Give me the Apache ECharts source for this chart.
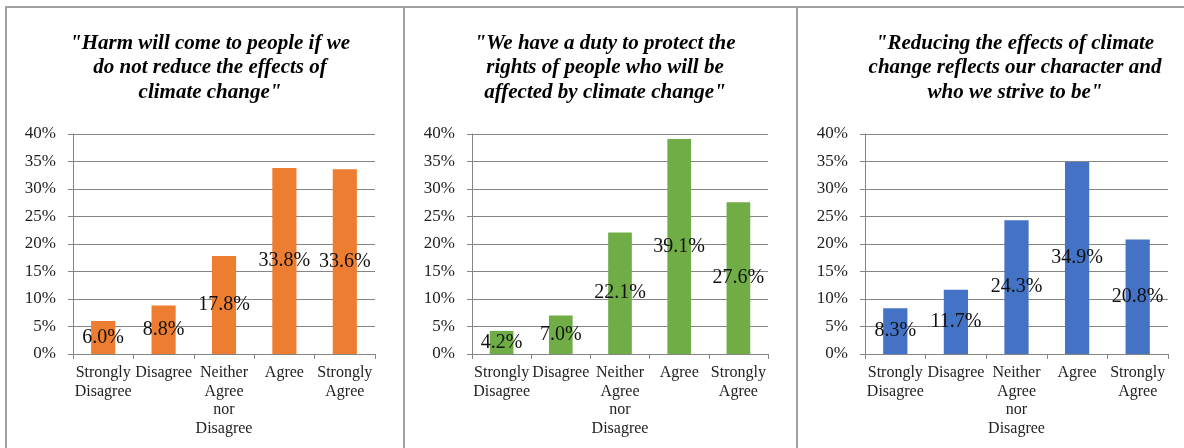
<!DOCTYPE html>
<html>
<head>
<meta charset="utf-8">
<script src="https://cdn.jsdelivr.net/npm/echarts@6/dist/echarts.min.js"></script>
<style>
  html, body { margin: 0; padding: 0; background: #fff; }
  #chart { width: 1184px; height: 448px; }
</style>
</head>
<body>
<div id="chart"></div>
<script>
// data
var categories = ['Strongly\nDisagree', 'Disagree', 'Neither\nAgree\nnor\nDisagree', 'Agree', 'Strongly\nAgree'];
var titles = [
  '"Harm will come to people if we\ndo not reduce the effects of\nclimate change"',
  '"We have a duty to protect the\nrights of people who will be\naffected by climate change"',
  '"Reducing the effects of climate\nchange reflects our character and\nwho we strive to be"'
];
var harmValues = [6.0, 8.8, 17.8, 33.8, 33.6];
var dutyValues = [4.2, 7.0, 22.1, 39.1, 27.6];
var characterValues = [8.3, 11.7, 24.3, 34.9, 20.8];
var yMax = 40;
var yStep = 5;

var serif = '"Liberation Serif", "DejaVu Serif", serif';
var barColors = ['#ED7D31', '#70AD47', '#4472C4'];
var seriesValues = [harmValues, dutyValues, characterValues];

// panel layout (px)
var grids = [
  { left: 73, top: 134, width: 302, height: 220 },
  { left: 472, top: 134, width: 296, height: 220 },
  { left: 865, top: 134, width: 303, height: 220 }
];
var titleCenters = [205, 600, 1010];

var chart = echarts.init(document.getElementById('chart'));

var option = {
  animation: false,
  title: titles.map(function (t, i) {
    return {
      text: t,
      left: titleCenters[i],
      top: 26,
      textAlign: 'center',
      textStyle: {
        fontFamily: serif,
        fontSize: 21,
        fontStyle: 'italic',
        fontWeight: 'bold',
        lineHeight: 24.5,
        color: '#000'
      }
    };
  }),
  grid: grids,
  xAxis: grids.map(function (g, i) {
    return {
      type: 'category',
      gridIndex: i,
      data: categories,
      axisLine: { lineStyle: { color: '#858585', width: 1 } },
      axisTick: { show: true, length: 5, lineStyle: { color: '#858585' } },
      axisLabel: {
        interval: 0,
        margin: 10,
        fontFamily: serif,
        fontSize: 16,
        lineHeight: 18.4,
        color: '#222'
      }
    };
  }),
  yAxis: grids.map(function (g, i) {
    return {
      type: 'value',
      gridIndex: i,
      min: 0,
      max: yMax,
      interval: yStep,
      axisLine: { show: true, lineStyle: { color: '#858585', width: 1 } },
      axisTick: { show: true, length: 5, lineStyle: { color: '#858585' } },
      splitLine: { lineStyle: { color: '#858585', width: 1 } },
      axisLabel: {
        formatter: '{value}%',
        margin: 17,
        fontFamily: serif,
        fontSize: 17,
        color: '#222'
      }
    };
  }),
  series: seriesValues.map(function (vals, i) {
    return {
      type: 'bar',
      xAxisIndex: i,
      yAxisIndex: i,
      data: vals,
      barWidth: '40%',
      itemStyle: { color: barColors[i] },
      label: {
        show: true,
        position: 'inside',
        formatter: function (p) { return p.value.toFixed(1) + '%'; },
        fontFamily: serif,
        fontSize: 20,
        color: '#111'
      }
    };
  }),
  graphic: [
    { type: 'line', shape: { x1: 5, y1: 7, x2: 1184, y2: 7 }, style: { stroke: '#a0a0a0', lineWidth: 2 } },
    { type: 'line', shape: { x1: 6, y1: 7, x2: 6, y2: 448 }, style: { stroke: '#a0a0a0', lineWidth: 2 } },
    { type: 'line', shape: { x1: 404, y1: 7, x2: 404, y2: 448 }, style: { stroke: '#a0a0a0', lineWidth: 2 } },
    { type: 'line', shape: { x1: 797, y1: 7, x2: 797, y2: 448 }, style: { stroke: '#a0a0a0', lineWidth: 2 } }
  ]
};

chart.setOption(option);
</script>
</body>
</html>
